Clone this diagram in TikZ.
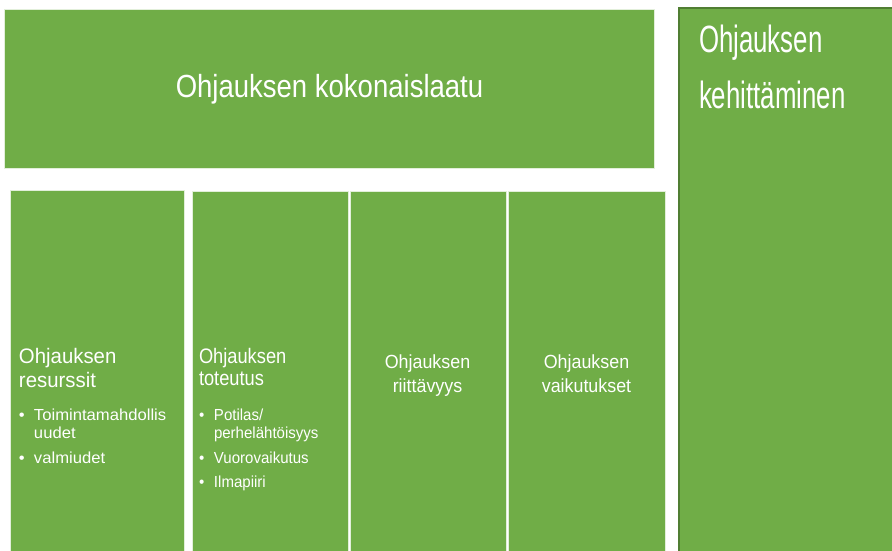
\documentclass[tikz,border=0pt]{standalone}
\usepackage{fontspec}
\setmainfont{Liberation Sans}
\newfontfamily\fRight[FakeStretch=0.68]{Liberation Sans}
\newfontfamily\fTop[FakeStretch=0.86]{Liberation Sans}
\newfontfamily\fBa[FakeStretch=0.97]{Liberation Sans}
\newfontfamily\fBb[FakeStretch=0.87]{Liberation Sans}
\newfontfamily\fBc[FakeStretch=0.94]{Liberation Sans}
\newfontfamily\fLa[FakeStretch=1.04]{Liberation Sans}
\newfontfamily\fLb[FakeStretch=0.94]{Liberation Sans}
\definecolor{gfill}{HTML}{70AD47}
\definecolor{gedge}{HTML}{E2EFDA}
\definecolor{gdark}{HTML}{507E32}
\newcommand{\bitem}[1]{{\hangindent=15pt\hangafter=1\noindent\makebox[15pt][l]{\textbullet}#1\par}}
\tikzset{
  box/.style={anchor=north west, fill=gfill, draw=gedge, line width=1pt, inner sep=0pt, outer sep=0pt},
  txt/.style={text=white, inner sep=0pt, outer sep=0pt}
}
\begin{document}
\begin{tikzpicture}[x=1pt,y=-1pt]
\useasboundingbox (0,0) rectangle (892,551);
\clip (0,0) rectangle (892,551);
\fill[white] (0,0) rectangle (892,551);
% boxes
\node[box, minimum width=650pt, minimum height=159pt] (top) at (4.5,9.5) {};
\node[box, draw=gdark, line width=2pt, minimum width=240pt, minimum height=570pt] (dev) at (679,8) {};
\node[box, minimum width=173.5pt, minimum height=370pt] (b1) at (10.5,190.5) {};
\node[box, minimum width=156pt, minimum height=370pt] (b2) at (192,191) {};
\node[box, minimum width=156pt, minimum height=370pt] (b3) at (350,191) {};
\node[box, minimum width=157pt, minimum height=370pt] (b4) at (508,191) {};
% texts
\node[txt, anchor=base] (ttop) at (329.5,98) {\fTop\fontsize{32}{36}\selectfont Ohjauksen kokonaislaatu};
\node[txt, anchor=base west] (tdev) at (699,53) {\parbox[t]{185pt}{\raggedright\fRight\fontsize{38}{55}\selectfont Ohjauksen\\kehittäminen}};
\node[txt, anchor=base west] (t1) at (19,363) {\parbox[t]{160pt}{\raggedright\fBa\fontsize{21}{24}\selectfont Ohjauksen\\resurssit\par
  \fLa\fontsize{16}{18}\selectfont\vspace{15pt}
  \bitem{Toimintamahdollis\newline uudet}\vspace{7pt}
  \bitem{valmiudet}}};
\node[txt, anchor=base west] (t2) at (199,363) {\parbox[t]{145pt}{\raggedright\fBb\fontsize{21}{22.5}\selectfont Ohjauksen\\toteutus\par
  \fLb\fontsize{16}{18}\selectfont\vspace{17pt}
  \bitem{Potilas/\newline perhelähtöisyys}\vspace{7pt}
  \bitem{Vuorovaikutus}\vspace{6pt}
  \bitem{Ilmapiiri}}};
\node[txt, anchor=base] (t3) at (427.5,368) {\parbox[t]{150pt}{\centering\fBc\fontsize{19}{24}\selectfont Ohjauksen\\riittävyys}};
\node[txt, anchor=base] (t4) at (586.5,368) {\parbox[t]{150pt}{\centering\fBc\fontsize{19}{24}\selectfont Ohjauksen\\vaikutukset}};
\end{tikzpicture}
\end{document}
